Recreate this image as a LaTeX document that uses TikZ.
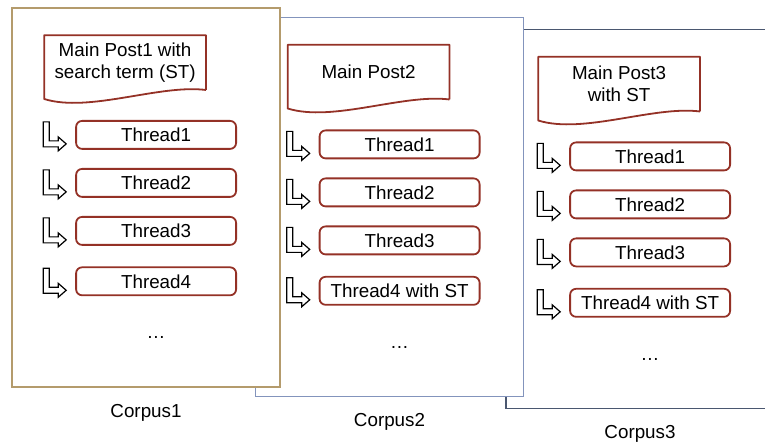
\documentclass[tikz,border=0pt]{standalone}
\usepackage{fontspec}
\setmainfont{Liberation Sans}
\usetikzlibrary{positioning, calc}
\definecolor{postred}{HTML}{943126}
\definecolor{corpusone}{HTML}{B49B6C}
\definecolor{corpustwo}{HTML}{8394BC}
\definecolor{corpusthree}{HTML}{4A5770}
\tikzset{
x=0.5pt, y=-0.5pt, % one unit is one pixel of the sketch, y runs downwards
node font=\fontsize{9.4pt}{11pt}\selectfont,
corpus/.style={draw, fill=white, line width=0.8pt, minimum width=134pt, minimum height=189.5pt, inner sep=0pt}, % the stacked pages
corpusname/.style={inner sep=3pt},
post/.style={minimum width=80.5pt, minimum height=27pt, inner sep=0pt, align=center}, % text of the document shape
docline/.style={draw=postred, line width=0.9pt, line join=round},
thread/.style={draw=postred, line width=0.9pt, rounded corners=3pt, minimum width=80pt, minimum height=14pt, inner sep=0pt},
larrow/.pic={\draw[line width=0.6pt, fill=white] (-23,-22) -- (-17,-22) -- (-17,-3) -- (-8,-3) -- (-8,-7) -- (0,0) -- (-8,7) -- (-8,3) -- (-23,3) -- cycle;},
}
% outline of a main post: flat top, wavy bottom
\newcommand{\docpost}[1]{\draw[docline] (#1.south east) -- (#1.north east) -- (#1.north west) -- ($(#1.south west)+(0,9)$) .. controls +(45,14) and +(-46,-6) .. (#1.south east);}
% bent arrow in front of a thread
\newcommand{\bent}[1]{\pic at ($(#1.west)+(-9,9)$) {larrow};}

\begin{document}
\begin{tikzpicture}
  \clip (0,0) rectangle (765,443);

  \node[corpus, draw=corpusthree] (c3) at (640,219) {};
  \node[corpus, draw=corpustwo] (c2) at (389.5,207) {};
  \node[corpus, draw=corpusone] (c1) at (146,197.5) {};

  \node[corpusname, below=5pt of c1] (n1) {Corpus1};
  \node[corpusname, below=5pt of c2] (n2) {Corpus2};
  \node[corpusname, below=5pt of c3] (n3) {Corpus3};

  % corpus 1
  \node[post, below right=14pt and 16.5pt of c1.north west] (p1) {Main Post1 with\\search term (ST)};
  \node[thread, below right=15pt and 15.5pt of p1.south west] (t11) {Thread1};
  \node[thread, below=9.1pt of t11] (t12) {Thread2};
  \node[thread, below=9.1pt of t12] (t13) {Thread3};
  \node[thread, below=10.3pt of t13] (t14) {Thread4};
  \node[below=17pt of t14] (d1) {\dots};

  % corpus 2
  \node[post, below right=14pt and 16.5pt of c2.north west] (p2) {Main Post2};
  \node[thread, below right=15pt and 15.5pt of p2.south west] (t21) {Thread1};
  \node[thread, below=9.1pt of t21] (t22) {Thread2};
  \node[thread, below=9.1pt of t22] (t23) {Thread3};
  \node[thread, below=10.3pt of t23] (t24) {Thread4 with ST};
  \node[below=17pt of t24] (d2) {\dots};

  % corpus 3
  \node[post, below right=14pt and 16.5pt of c3.north west] (p3) {Main Post3\\with ST};
  \node[thread, below right=15pt and 15.5pt of p3.south west] (t31) {Thread1};
  \node[thread, below=9.1pt of t31] (t32) {Thread2};
  \node[thread, below=9.1pt of t32] (t33) {Thread3};
  \node[thread, below=10.3pt of t33] (t34) {Thread4 with ST};
  \node[below=17pt of t34] (d3) {\dots};

  \docpost{p1} \docpost{p2} \docpost{p3}

  \bent{t11} \bent{t12} \bent{t13} \bent{t14}
  \bent{t21} \bent{t22} \bent{t23} \bent{t24}
  \bent{t31} \bent{t32} \bent{t33} \bent{t34}
\end{tikzpicture}
\end{document}
